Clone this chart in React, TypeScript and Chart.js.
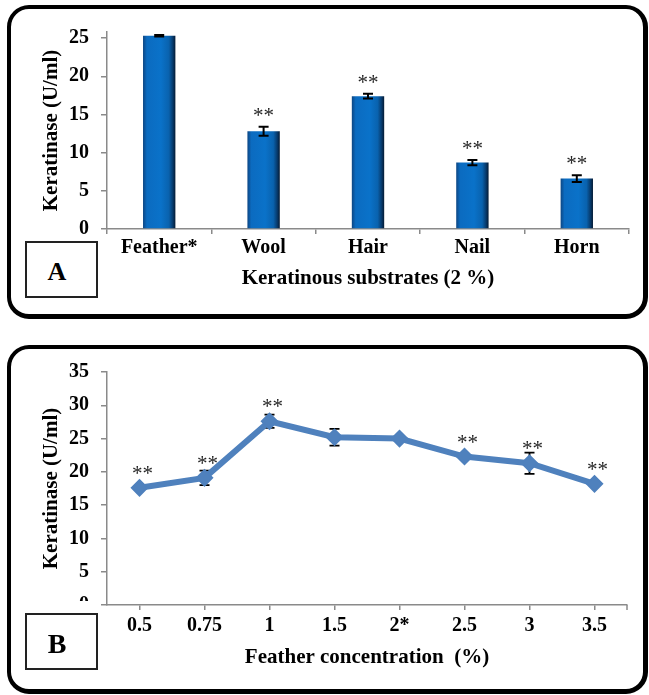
import React, { useEffect, useRef } from 'react';
import { Chart, registerables } from 'chart.js';

Chart.register(...registerables);

// ---------- Panel A data ----------
const substrates = ['Feather*', 'Wool', 'Hair', 'Nail', 'Horn'];
const substrateActivity = [25.3, 12.8, 17.4, 8.7, 6.6];
const substrateError = [0.1, 0.6, 0.3, 0.35, 0.45];
const substrateStars = ['', '**', '**', '**', '**'];
const substrateAxisMax = 25.8;
const substrateStep = 5;

// ---------- Panel B data ----------
const concentrations = ['0.5', '0.75', '1', '1.5', '2*', '2.5', '3', '3.5'];
const concActivity = [17.6, 19.1, 27.6, 25.2, 25.0, 22.3, 21.3, 18.2];
const concError = [0.3, 1.1, 1.0, 1.25, 0.3, 0.4, 1.6, 0.3];
const concStars = ['**', '**', '**', '', '', '**', '**', '**'];
const concAxisMax = 35;
const concStep = 5;

const FAMILY = "'Liberation Serif', 'Times New Roman', serif";
const AXIS_COLOR = '#8a8a8a';
const tickFont = { family: FAMILY, size: 20, weight: 'bold' as const };
const titleFont = { family: FAMILY, size: 21, weight: 'bold' as const };

type AnnotOpts = {
  values: number[];
  errors: number[];
  stars: string[];
  errorsBehind: boolean;
  capHalf: number;
  errLineWidth: number;
  starFromErrTop: boolean;
  starGap: number;
  starShift: number;
  endTick: boolean;
};

function makeAnnotatePlugin(o: AnnotOpts) {
  const drawErrors = (chart: any) => {
    const { ctx } = chart;
    const xs = chart.scales.x;
    const ys = chart.scales.y;
    ctx.save();
    ctx.strokeStyle = '#000';
    ctx.lineWidth = o.errLineWidth;
    o.values.forEach((v, i) => {
      const e = o.errors[i];
      const px = xs.getPixelForValue(i);
      const t = ys.getPixelForValue(v + e);
      const b = ys.getPixelForValue(v - e);
      ctx.beginPath();
      ctx.moveTo(px, t);
      ctx.lineTo(px, b);
      ctx.moveTo(px - o.capHalf, t);
      ctx.lineTo(px + o.capHalf, t);
      ctx.moveTo(px - o.capHalf, b);
      ctx.lineTo(px + o.capHalf, b);
      ctx.stroke();
    });
    ctx.restore();
  };
  const drawStars = (chart: any) => {
    const { ctx } = chart;
    const xs = chart.scales.x;
    const ys = chart.scales.y;
    ctx.save();
    ctx.fillStyle = '#262626';
    ctx.font = `21px ${FAMILY}`;
    ctx.textAlign = 'center';
    ctx.textBaseline = 'alphabetic';
    o.values.forEach((v, i) => {
      const s = o.stars[i];
      if (!s) return;
      const ref = o.starFromErrTop ? v + o.errors[i] : v;
      const px = xs.getPixelForValue(i) + o.starShift;
      const py = ys.getPixelForValue(ref) - o.starGap;
      ctx.fillText(s, px, py);
    });
    ctx.restore();
  };
  return {
    id: 'annotate',
    beforeDatasetsDraw(chart: any) {
      if (o.errorsBehind) drawErrors(chart);
    },
    afterDatasetsDraw(chart: any) {
      if (!o.errorsBehind) drawErrors(chart);
      drawStars(chart);
      if (o.endTick) {
        const { ctx, chartArea } = chart;
        ctx.save();
        ctx.strokeStyle = AXIS_COLOR;
        ctx.lineWidth = 1.5;
        ctx.beginPath();
        ctx.moveTo(chartArea.right, chartArea.bottom);
        ctx.lineTo(chartArea.right, chartArea.bottom + 5);
        ctx.stroke();
        ctx.restore();
      }
    },
  };
}

function barGradient(ctx: any) {
  const chart = ctx.chart;
  const xs = chart.scales && chart.scales.x;
  if (!xs || !chart.chartArea || ctx.dataIndex === undefined) return '#0a6cc0';
  const cx = xs.getPixelForValue(ctx.dataIndex);
  const w = (xs.width / substrates.length) * 0.31;
  const g = chart.ctx.createLinearGradient(cx - w / 2, 0, cx + w / 2, 0);
  g.addColorStop(0, '#0d4683');
  g.addColorStop(0.12, '#0b6bc0');
  g.addColorStop(0.55, '#0a72c9');
  g.addColorStop(0.8, '#0962ae');
  g.addColorStop(0.92, '#073a6c');
  g.addColorStop(1, '#041a33');
  return g;
}

function axisCommon() {
  return {
    grid: {
      display: true,
      drawOnChartArea: false,
      drawTicks: true,
      color: AXIS_COLOR,
      lineWidth: 1.5,
    },
    border: { display: true, color: AXIS_COLOR, width: 1.5 },
  };
}

function configA(): any {
  const base = axisCommon();
  return {
    type: 'bar',
    data: {
      labels: substrates,
      datasets: [
        {
          data: substrateActivity,
          backgroundColor: barGradient,
          borderWidth: 0,
          categoryPercentage: 1,
          barPercentage: 0.31,
        },
      ],
    },
    options: {
      responsive: false,
      maintainAspectRatio: false,
      animation: false,
      layout: { padding: { left: 30, right: 20, top: 32, bottom: 0 } },
      plugins: { legend: { display: false }, tooltip: { enabled: false } },
      scales: {
        x: {
          ...base,
          grid: { ...base.grid, tickLength: 5 },
          ticks: { color: '#000', font: tickFont, padding: 2, maxRotation: 0, autoSkip: false },
          title: {
            display: true,
            text: 'Keratinous substrates (2 %)',
            color: '#000',
            font: titleFont,
            padding: { top: 0, bottom: 39 },
          },
          afterFit: (s: any) => {
            s.height = 101;
          },
        },
        y: {
          ...base,
          min: 0,
          max: substrateAxisMax,
          grid: { ...base.grid, tickLength: 6 },
          ticks: { stepSize: substrateStep, includeBounds: false, color: '#000', font: tickFont, padding: 12 },
          title: {
            display: true,
            text: 'Keratinase (U/ml)',
            color: '#000',
            font: titleFont,
            padding: { top: 9, bottom: 0 },
          },
          afterFit: (s: any) => {
            s.width = 77;
          },
        },
      },
    },
    plugins: [
      makeAnnotatePlugin({
        values: substrateActivity,
        errors: substrateError,
        stars: substrateStars,
        errorsBehind: false,
        capHalf: 5,
        errLineWidth: 2,
        starFromErrTop: true,
        starGap: 5,
        starShift: 0,
        endTick: false,
      }),
    ],
  };
}

function configB(): any {
  const base = axisCommon();
  return {
    type: 'line',
    data: {
      labels: concentrations,
      datasets: [
        {
          data: concActivity,
          borderColor: '#4f81bd',
          backgroundColor: '#4f81bd',
          borderWidth: 6,
          tension: 0,
          pointStyle: 'rectRot',
          pointRadius: 8,
          pointBackgroundColor: '#4f81bd',
          pointBorderColor: '#4f81bd',
          pointBorderWidth: 1.5,
          clip: false,
        },
      ],
    },
    options: {
      responsive: false,
      maintainAspectRatio: false,
      animation: false,
      layout: { padding: { left: 30, right: 22, top: 32, bottom: 0 } },
      plugins: { legend: { display: false }, tooltip: { enabled: false } },
      scales: {
        x: {
          ...base,
          offset: true,
          grid: { ...base.grid, offset: false, tickLength: 5 },
          ticks: { color: '#000', font: tickFont, padding: 4, maxRotation: 0, autoSkip: false },
          title: {
            display: true,
            text: 'Feather concentration  (%)',
            color: '#000',
            font: titleFont,
            padding: { top: 0, bottom: 25 },
          },
          afterFit: (s: any) => {
            s.height = 90;
          },
        },
        y: {
          ...base,
          min: 0,
          max: concAxisMax,
          grid: { ...base.grid, tickLength: 6 },
          ticks: { stepSize: concStep, color: '#000', font: tickFont, padding: 12 },
          title: {
            display: true,
            text: 'Keratinase (U/ml)',
            color: '#000',
            font: titleFont,
            padding: { top: 9, bottom: 0 },
          },
          afterFit: (s: any) => {
            s.width = 77;
          },
        },
      },
    },
    plugins: [
      makeAnnotatePlugin({
        values: concActivity,
        errors: concError,
        stars: concStars,
        errorsBehind: true,
        capHalf: 5,
        errLineWidth: 1.8,
        starFromErrTop: false,
        starGap: 8,
        starShift: 3,
        endTick: true,
      }),
    ],
  };
}

function ChartCanvas({ top, width, height, make }: { top: number; width: number; height: number; make: () => any }) {
  const ref = useRef<HTMLCanvasElement>(null);
  useEffect(() => {
    const chart = new Chart(ref.current as HTMLCanvasElement, make());
    return () => chart.destroy();
  }, []);
  return (
    <canvas
      ref={ref}
      width={width}
      height={height}
      style={{ position: 'absolute', left: 0, top, width, height, display: 'block' }}
    />
  );
}

const frame = (top: number, height: number): React.CSSProperties => ({
  position: 'absolute',
  left: 7,
  top,
  width: 641,
  height,
  boxSizing: 'border-box',
  borderStyle: 'solid',
  borderColor: '#000',
  borderWidth: '4px 5px 5px 4px',
  borderRadius: 22,
  background: '#fff',
});

const labelBox = (top: number, size: number, extra?: React.CSSProperties): React.CSSProperties => ({
  position: 'absolute',
  left: 25,
  top,
  width: 73,
  height: 57,
  boxSizing: 'border-box',
  border: '2px solid #222',
  background: '#fff',
  display: 'flex',
  alignItems: 'center',
  justifyContent: 'center',
  paddingRight: 9,
  paddingTop: 4,
  fontFamily: FAMILY,
  fontWeight: 'bold',
  fontSize: size,
  color: '#000',
  ...extra,
});

export default function App() {
  return (
    <div style={{ position: 'absolute', left: 0, top: 0, width: 649, height: 695, background: '#fff', overflow: 'hidden' }}>
      <div style={frame(5, 314)} />
      <div style={frame(345, 349)} />
      <ChartCanvas top={0} width={649} height={330} make={configA} />
      <ChartCanvas top={340} width={649} height={355} make={configB} />
      <div style={labelBox(241, 26)}>A</div>
      <div style={labelBox(613, 28, { boxShadow: '0 -12px 0 0 #fff' })}>B</div>
    </div>
  );
}
